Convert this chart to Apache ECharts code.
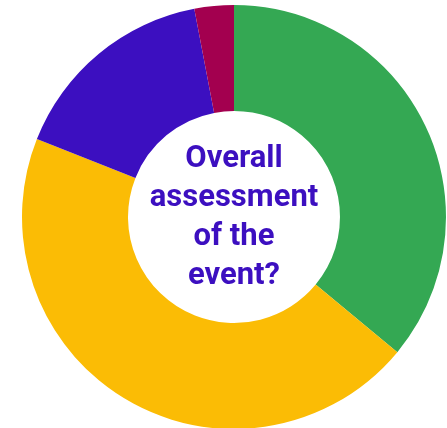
<!DOCTYPE html>
<html>
<head>
<meta charset="utf-8">
<script src="https://cdn.jsdelivr.net/npm/echarts@6/dist/echarts.min.js"></script>
<style>
  html, body { margin: 0; padding: 0; background: #fff; }
  #chart { width: 447px; height: 428px; }
</style>
</head>
<body>
<div id="chart"></div>
<script>
// answers to the question, clockwise from the top
const categories = ["Good", "Average", "Poor", "Very poor"];
const values = [36, 45, 16, 3];
const colors = ["#34a853", "#fbbc05", "#3c0fc0", "#a3004f"];
const title = "Overall\nassessment\nof the\nevent?";

const mychart = echarts.init(document.getElementById("chart"));
mychart.setOption({
  animation: false,
  graphic: [
    {
      type: "text",
      x: 234,
      y: 218,
      z: 10,
      style: {
        text: title,
        align: "center",
        verticalAlign: "middle",
        fontFamily: "Roboto",
        fontWeight: "bold",
        fontSize: 31,
        lineHeight: 39,
        fill: "#3c0fc0",
      },
    },
  ],
  series: [
    {
      type: "pie",
      center: [234, 217],
      radius: [106, 212],
      startAngle: 90,
      clockwise: true,
      label: { show: false },
      labelLine: { show: false },
      emphasis: { disabled: true },
      itemStyle: { borderWidth: 0 },
      data: categories.map((name, i) => ({
        name: name,
        value: values[i],
        itemStyle: { color: colors[i] },
      })),
    },
  ],
});
</script>
</body>
</html>
